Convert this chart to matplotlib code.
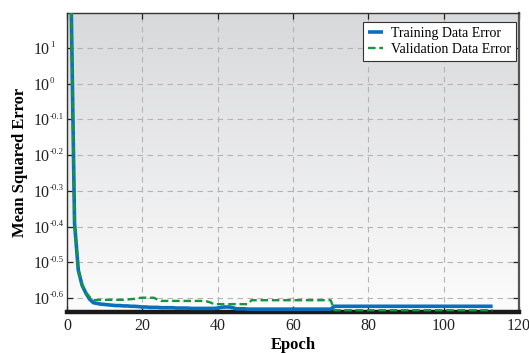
import numpy as np
import matplotlib
matplotlib.use("Agg")
import matplotlib.pyplot as plt

plt.rcParams["font.family"] = ["Liberation Serif", "DejaVu Serif"]

# Error curves per epoch (1..113), in tick-position units of the y axis
epochs = list(range(1, 114))

training_error = [
    9.00, 2.10, 0.78, 0.36, 0.14, -0.03, -0.13, -0.15, -0.17, -0.18,
    -0.19, -0.20, -0.21, -0.21, -0.22, -0.22, -0.23, -0.23, -0.24, -0.25,
    -0.25, -0.26, -0.26, -0.26, -0.27, -0.27, -0.27, -0.27, -0.28, -0.28,
    -0.28, -0.28, -0.29, -0.29, -0.29, -0.29, -0.29, -0.29, -0.29, -0.28,
    -0.26, -0.25, -0.25, -0.27, -0.30, -0.30, -0.30, -0.31, -0.31, -0.31,
    -0.31, -0.31, -0.31, -0.31, -0.31, -0.31, -0.31, -0.31, -0.31, -0.31,
    -0.31, -0.31, -0.31, -0.31, -0.31, -0.31, -0.31, -0.31, -0.31, -0.31,
    -0.23, -0.23, -0.23, -0.23, -0.23, -0.23, -0.23, -0.23, -0.23, -0.23,
    -0.23, -0.23, -0.23, -0.23, -0.23, -0.23, -0.23, -0.23, -0.23, -0.23,
    -0.23, -0.23, -0.23, -0.23, -0.23, -0.23, -0.23, -0.23, -0.23, -0.23,
    -0.23, -0.23, -0.23, -0.23, -0.23, -0.23, -0.23, -0.23, -0.23, -0.23,
    -0.23, -0.23, -0.23,
]

validation_error = [
    9.00, 2.10, 0.80, 0.38, 0.16, 0.03, -0.06, -0.05, -0.05, -0.05,
    -0.05, -0.05, -0.05, -0.05, -0.05, -0.04, -0.03, -0.02, 0.00, 0.01,
    0.01, 0.01, 0.01, -0.04, -0.08, -0.08, -0.08, -0.08, -0.08, -0.08,
    -0.08, -0.08, -0.08, -0.08, -0.08, -0.08, -0.09, -0.12, -0.17, -0.17,
    -0.17, -0.17, -0.17, -0.17, -0.17, -0.17, -0.17, -0.17, -0.06, -0.06,
    -0.06, -0.06, -0.06, -0.06, -0.06, -0.06, -0.06, -0.06, -0.06, -0.06,
    -0.06, -0.06, -0.06, -0.06, -0.06, -0.06, -0.06, -0.06, -0.06, -0.06,
    -0.34, -0.34, -0.34, -0.34, -0.34, -0.34, -0.34, -0.34, -0.34, -0.34,
    -0.34, -0.34, -0.34, -0.34, -0.34, -0.34, -0.34, -0.34, -0.34, -0.34,
    -0.34, -0.34, -0.34, -0.34, -0.34, -0.34, -0.34, -0.34, -0.34, -0.34,
    -0.34, -0.34, -0.34, -0.34, -0.34, -0.34, -0.34, -0.34, -0.34, -0.34,
    -0.34, -0.34, -0.34,
]

y_tick_pos = [7, 6, 5, 4, 3, 2, 1, 0]
y_tick_base = "10"
y_tick_exponents = ["1", "0", "-0.1", "-0.2", "-0.3", "-0.4", "-0.5", "-0.6"]
x_ticks = [0, 20, 40, 60, 80, 100, 120]

W, H = 529, 353
fig = plt.figure(figsize=(W / 100, H / 100), dpi=100)
ax_l, ax_r, ax_t, ax_b = 67, 519, 13, 312
ax = fig.add_axes([ax_l / W, 1 - ax_b / H, (ax_r - ax_l) / W, (ax_b - ax_t) / H])

# vertical grey-to-white background gradient
grad = np.linspace(0, 1, 256).reshape(-1, 1)
top_c = np.array([216, 217, 219]) / 255
bot_c = np.array([252, 252, 252]) / 255
img = top_c[None, None, :] * (1 - grad[:, :, None]) + bot_c[None, None, :] * grad[:, :, None]
ax.imshow(img, extent=[0, 1, 0, 1], transform=ax.transAxes, aspect="auto",
          zorder=0, interpolation="bicubic")

ax.plot(epochs, training_error, color="#0a6fbd", lw=2.6, solid_capstyle="butt",
        label="Training Data Error", zorder=3)
ax.plot(epochs, validation_error, color="#14963c", lw=1.7, ls=(0, (3.2, 1.6)),
        label="Validation Data Error", zorder=4)

ax.set_xlim(0, 120)
ax.set_ylim(-0.39, 7.98)
ax.set_xticks(x_ticks)
ax.set_yticks(y_tick_pos)
ax.set_yticklabels([y_tick_base] * len(y_tick_pos))

# small raised exponents next to each "10"
exp_x = (50 - ax_l) / (ax_r - ax_l)
for pos, e in zip(y_tick_pos, y_tick_exponents):
    ax.text(exp_x, pos + 0.02, e, transform=ax.get_yaxis_transform(),
            fontsize=6.3, ha="left", va="baseline", color="#222222", clip_on=False)

ax.grid(True, color="#b4b4b4", lw=0.8, ls=(0, (5, 4)), zorder=1)
ax.set_axisbelow(True)

ax.tick_params(direction="in", top=True, right=True, labelsize=11.5,
               length=4, width=0.9, colors="#222222", labelcolor="#222222")
ax.tick_params(axis="x", pad=4)
ax.tick_params(axis="y", pad=12.5, labelsize=11.5)

for side in ["top", "left"]:
    ax.spines[side].set_linewidth(1.0)
    ax.spines[side].set_color("#333333")
ax.spines["right"].set_linewidth(1.6)
ax.spines["right"].set_color("#555555")
ax.spines["bottom"].set_linewidth(3.2)
ax.spines["bottom"].set_color("#1a1a1a")

ax.set_xlabel("Epoch", fontsize=12, fontweight="bold")
ax.xaxis.set_label_coords(0.5, -(345 - ax_b) / (ax_b - ax_t), transform=ax.transAxes)
ax.xaxis.label.set_va("center")
ax.set_ylabel("Mean Squared Error", fontsize=12, fontweight="bold")
ax.yaxis.set_label_coords(-(ax_l - 20) / (ax_r - ax_l), 0.5, transform=ax.transAxes)
ax.yaxis.label.set_va("center")

leg = ax.legend(loc="upper right", fontsize=10, frameon=True, fancybox=False,
                framealpha=1, edgecolor="#333333", handlelength=1.1,
                borderpad=0.35, labelspacing=0.25, handletextpad=0.6,
                borderaxespad=0,
                bbox_to_anchor=((516 - ax_l) / (ax_r - ax_l), (ax_b - 22) / (ax_b - ax_t)))
leg.get_frame().set_linewidth(0.8)

fig.savefig("out.png", dpi=100)
